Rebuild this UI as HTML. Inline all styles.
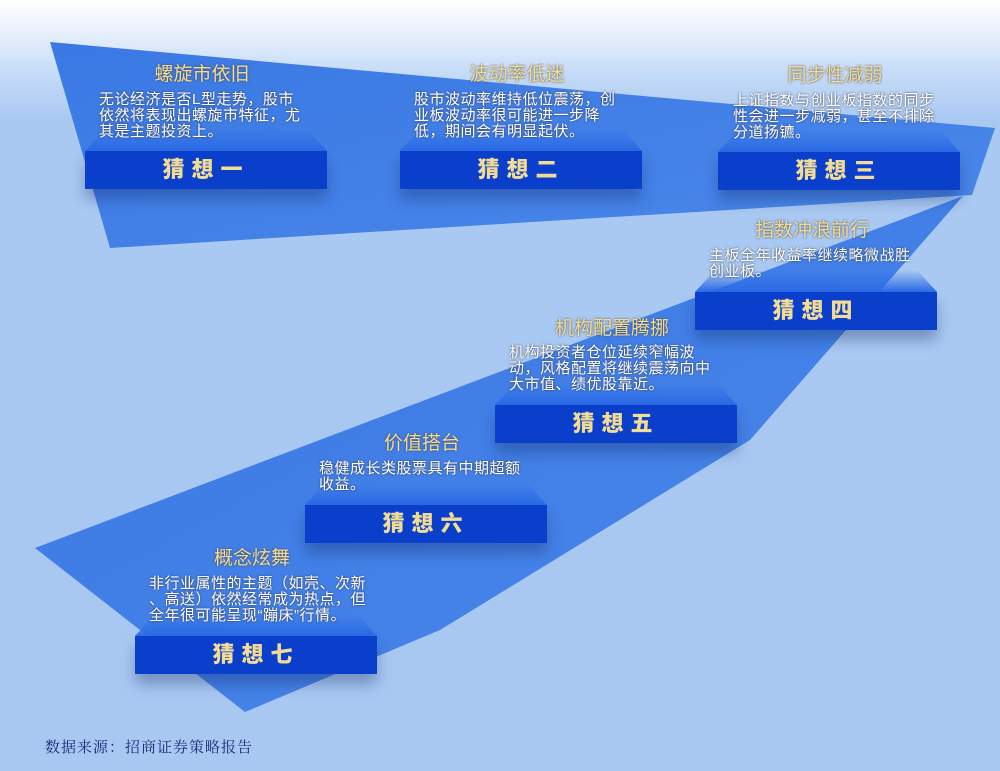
<!DOCTYPE html>
<html><head><meta charset="utf-8"><style>
body{margin:0;width:1000px;height:771px;overflow:hidden;position:relative;background:linear-gradient(#fff 0px,#eef4fd 25px,#c4daf7 75px,#a9c9f2 120px,#a8c8f2 771px);font-family:"Liberation Sans","Noto Sans CJK SC",sans-serif}
svg{position:absolute;left:0;top:0}
.t{position:absolute;color:#f2db95;font-size:19px;text-align:center;width:242px;text-shadow:0 0 2px #444}
.b{position:absolute;color:#fff;font-size:15px;line-height:16px;text-shadow:0 0 2px #334;white-space:nowrap;letter-spacing:0.5px}
.box{position:absolute;width:242px;height:38px;background:#0a3fcc;color:#f2db95;font-weight:900;font-size:22px;text-align:center;line-height:38px;letter-spacing:7px;box-shadow:0 10px 14px rgba(20,40,100,.35)}
.top{position:absolute;width:242px;height:22px;background:linear-gradient(rgba(40,110,230,0),#2a6ae6);clip-path:polygon(20px 0,222px 0,242px 22px,0 22px)}
.src{position:absolute;left:45px;top:736px;font-family:"Noto Serif CJK SC",serif;font-size:15px;color:#1a2a7a;letter-spacing:1px}
</style></head><body>
<svg width="1000" height="771">
<defs><linearGradient id="g" x1="0" y1="0" x2="1" y2="1"><stop offset="0" stop-color="#3a78e4"/><stop offset="1" stop-color="#4a88ea"/></linearGradient></defs>
<polygon points="50,42 995,128 972,195 110,248" fill="url(#g)"/>
<polygon points="963,196 35,548 245,712 440,630 750,440" fill="url(#g)"/>
</svg>
<div class="top" style="left:85px;top:129px"></div><div class="box" style="left:85px;top:151px">猜想一</div>
<div class="top" style="left:400px;top:129px"></div><div class="box" style="left:400px;top:151px">猜想二</div>
<div class="top" style="left:718px;top:130px"></div><div class="box" style="left:718px;top:152px">猜想三</div>
<div class="top" style="left:695px;top:270px"></div><div class="box" style="left:695px;top:292px">猜想四</div>
<div class="top" style="left:495px;top:383px"></div><div class="box" style="left:495px;top:405px">猜想五</div>
<div class="top" style="left:305px;top:483px"></div><div class="box" style="left:305px;top:505px">猜想六</div>
<div class="top" style="left:135px;top:614px"></div><div class="box" style="left:135px;top:636px">猜想七</div>

<div class="t" style="left:81px;top:59px">螺旋市依旧</div>
<div class="b" style="left:99px;top:92px">无论经济是否L型走势，股市<br>依然将表现出螺旋市特征，尤<br>其是主题投资上。</div>
<div class="t" style="left:396px;top:59px">波动率低迷</div>
<div class="b" style="left:414px;top:92px">股市波动率维持低位震荡，创<br>业板波动率很可能进一步降<br>低，期间会有明显起伏。</div>
<div class="t" style="left:714px;top:60px">同步性减弱</div>
<div class="b" style="left:733px;top:93px">上证指数与创业板指数的同步<br>性会进一步减弱，甚至不排除<br>分道扬镳。</div>
<div class="t" style="left:691px;top:215px">指数冲浪前行</div>
<div class="b" style="left:709px;top:248px">主板全年收益率继续略微战胜<br>创业板。</div>
<div class="t" style="left:491px;top:313px">机构配置腾挪</div>
<div class="b" style="left:509px;top:345px">机构投资者仓位延续窄幅波<br>动，风格配置将继续震荡向中<br>大市值、绩优股靠近。</div>
<div class="t" style="left:301px;top:428px">价值搭台</div>
<div class="b" style="left:319px;top:461px">稳健成长类股票具有中期超额<br>收益。</div>
<div class="t" style="left:131px;top:543px">概念炫舞</div>
<div class="b" style="left:149px;top:576px">非行业属性的主题（如壳、次新<br>、高送）依然经常成为热点，但<br>全年很可能呈现“蹦床”行情。</div>
<div class="src">数据来源：招商证券策略报告</div>
</body></html>
